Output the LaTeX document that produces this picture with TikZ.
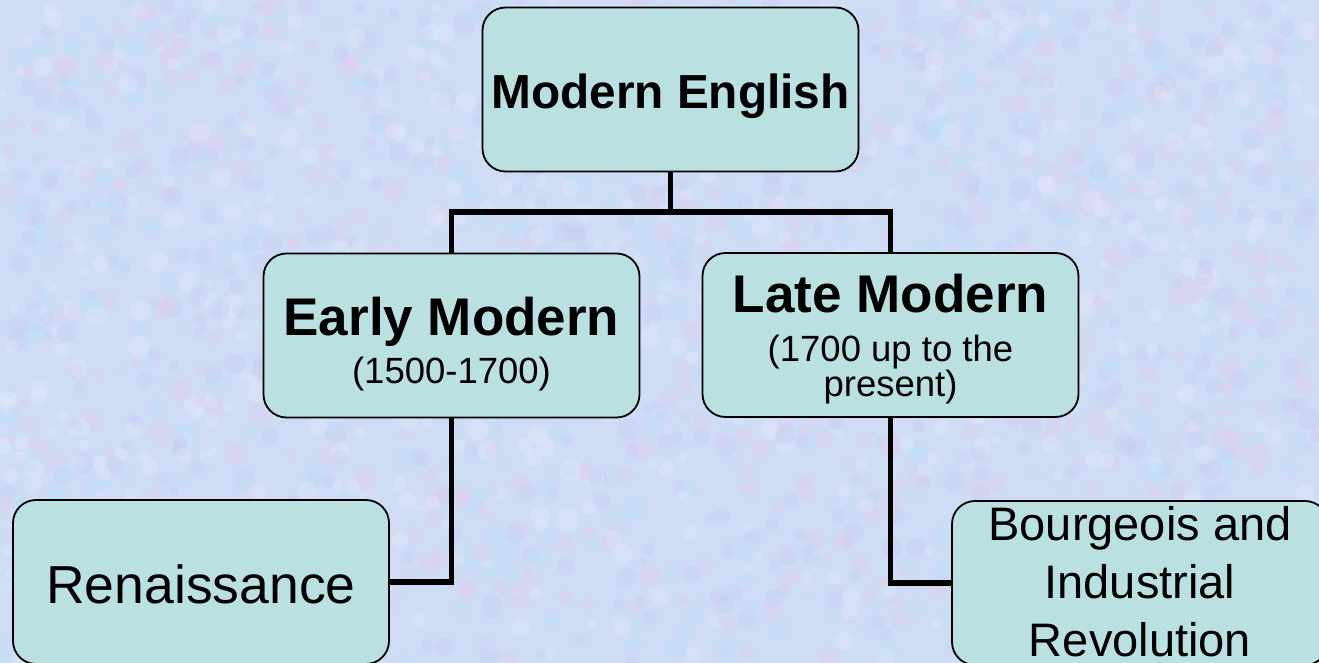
\documentclass[tikz,border=0pt]{standalone}
\usepackage{fontspec}
\setmainfont{Liberation Sans}
\definecolor{bg}{RGB}{207,220,246}
\definecolor{boxfill}{RGB}{186,224,226}
\definecolor{tpink}{RGB}{228,204,238}
\definecolor{tcyan}{RGB}{186,228,246}
\definecolor{tlav}{RGB}{198,204,242}
\definecolor{twhite}{RGB}{228,234,250}
\newcommand\vstrut[2]{\rule[-#2]{0pt}{\dimexpr#1+#2\relax}}
\begin{document}
\begin{tikzpicture}[x=1pt,y=1pt,
  box/.style={draw=black, line width=1.8pt, fill=boxfill, rounded corners=23pt,
    minimum width=376pt, minimum height=164pt, inner sep=0pt, align=center, text=black},
  conn/.style={line width=5.5pt, draw=black}]
\useasboundingbox (0,0) rectangle (1319,-663);
\fill[bg] (0,0) rectangle (1319,-663);
\begin{scope}
\clip (0,0) rectangle (1319,-663);
\pgfmathsetseed{11}
\foreach \i in {1,...,2200}{
  \pgfmathsetmacro\px{rnd*1319}
  \pgfmathsetmacro\py{-rnd*663}
  \pgfmathsetmacro\pr{4+rnd*7}
  \pgfmathtruncatemacro\pc{mod(\i,4)}
  \ifcase\pc \def\cc{tpink}\or \def\cc{tcyan}\or \def\cc{tlav}\or \def\cc{twhite}\fi
  \fill[\cc, opacity=0.35] (\px,\py) circle (\pr);
}
\end{scope}

\node[box, font={\fontsize{47.8}{47.8}\selectfont\bfseries}] (me) at (670.5,-89.5)
  {\vstrut{49.5pt}{10.5pt}Modern English};
\node[box, font={\fontsize{36.5}{35}\selectfont\lineskiplimit=-100pt}] (em) at (451.5,-335.5)
  {{\fontsize{53}{53}\selectfont\bfseries\vstrut{56pt}{0pt}Early Modern}\\[13pt]
   (1500-1700)\vstrut{0pt}{9pt}};
\node[box, font={\fontsize{36.5}{35}\selectfont\lineskiplimit=-100pt}] (lm) at (890.5,-335)
  {{\fontsize{53}{53}\selectfont\bfseries\vstrut{46pt}{0pt}Late Modern}\\[14pt]
   (1700 up to the\\ present)\vstrut{0pt}{8pt}};
\node[box, font={\fontsize{53.5}{53.5}\selectfont}] (ren) at (201,-582)
  {\vstrut{43pt}{1pt}Renaissance};
\node[box, font={\fontsize{47}{58}\selectfont\lineskiplimit=-100pt}] (bi) at (1140,-583)
  {\vstrut{35pt}{0pt}Bourgeois and\\ Industrial\\ Revolution\vstrut{0pt}{5pt}};

\coordinate (j) at (670.5,-212);
\draw[conn] (me.south) -- (j);
\draw[conn] (em.north) |- (j) -| (lm.north);
\draw[conn] (em.south) |- (ren.east);
\draw[conn] (lm.south) |- (bi.west);
\end{tikzpicture}
\end{document}
